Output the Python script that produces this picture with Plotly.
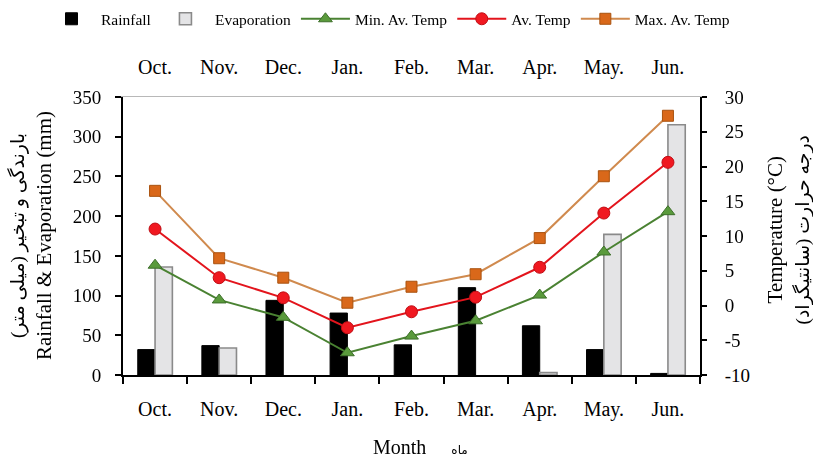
import plotly.graph_objects as go

# Monthly climate data (Oct - Jun)
months = ["Oct.", "Nov.", "Dec.", "Jan.", "Feb.", "Mar.", "Apr.", "May.", "Jun."]
rainfall = [32, 37, 94, 78, 38, 110, 62, 32, 2]
evaporation = [136, 34, 0, 0, 0, 0, 3, 177, 315]
min_av_temp = [5.8, 0.8, -1.7, -6.8, -4.4, -2.2, 1.5, 7.7, 13.5]
av_temp = [11.0, 4.0, 1.1, -3.2, -0.9, 1.2, 5.5, 13.3, 20.6]
max_av_temp = [16.5, 6.8, 4.0, 0.4, 2.7, 4.5, 9.7, 18.6, 27.3]

temp_ticks = [-10, -5, 0, 5, 10, 15, 20, 25, 30]
temp_tick_text = [str(t) for t in temp_ticks]

FONT = "Liberation Serif, Times New Roman, DejaVu Sans, serif"

fig = go.Figure()

fig.add_trace(go.Bar(
    x=months, y=rainfall, name="Rainfall",
    marker=dict(color="#000000", line=dict(color="#000000", width=1)),
    xaxis="x", yaxis="y",
))
# no outline on empty evaporation months
evap_edge = [1.6 if v > 0 else 0 for v in evaporation]
fig.add_trace(go.Bar(
    x=months, y=evaporation, name="Evaporation",
    marker=dict(color="#e4e4e6", line=dict(color="#8a8a8a", width=evap_edge)),
    xaxis="x", yaxis="y",
))
fig.add_trace(go.Scatter(
    x=months, y=min_av_temp, name="Min. Av. Temp", mode="lines+markers",
    line=dict(color="#4a8232", width=2),
    marker=dict(symbol="triangle-up", size=12, color="#5a9a3c",
                line=dict(color="#3d6f2a", width=1)),
    xaxis="x", yaxis="y2",
))
fig.add_trace(go.Scatter(
    x=months, y=av_temp, name="Av. Temp", mode="lines+markers",
    line=dict(color="#e3141c", width=2),
    marker=dict(symbol="circle", size=12, color="#f01820",
                line=dict(color="#c00d14", width=1)),
    xaxis="x", yaxis="y2",
))
fig.add_trace(go.Scatter(
    x=months, y=max_av_temp, name="Max. Av. Temp", mode="lines+markers",
    line=dict(color="#d08a4e", width=2),
    marker=dict(symbol="square", size=11, color="#d9681a",
                line=dict(color="#a9520f", width=1)),
    xaxis="x", yaxis="y2",
))
# Invisible trace so the top month axis carries its category labels
fig.add_trace(go.Scatter(
    x=months, y=rainfall, mode="markers", opacity=0, showlegend=False,
    hoverinfo="skip", xaxis="x2", yaxis="y",
))

fig.update_layout(
    width=813, height=457,
    margin=dict(l=123, r=113, t=97, b=82, autoexpand=False),
    paper_bgcolor="white", plot_bgcolor="white",
    font=dict(family=FONT, size=18, color="#000000"),
    barmode="group", bargap=0.46, bargroupgap=0.0,
    showlegend=True,
    legend=dict(
        orientation="h", x=(42 - 123) / 577, xanchor="left", y=1.341, yanchor="top",
        font=dict(family=FONT, size=15.5, color="#000000"),
        itemwidth=49, tracegroupgap=0,
        bgcolor="rgba(0,0,0,0)",
    ),
    xaxis=dict(
        type="category", categoryarray=months, range=[-0.5, 8.5],
        showline=True, linecolor="#000000", linewidth=2,
        ticks="outside", tickson="boundaries", ticklen=7, tickwidth=2,
        tickcolor="#000000", ticklabelstandoff=15,
        showgrid=False, zeroline=False,
        tickfont=dict(family=FONT, size=20),
    ),
    xaxis2=dict(
        type="category", categoryarray=months, range=[-0.5, 8.5],
        overlaying="x", side="top", anchor="y",
        showline=True, linecolor="#b8b8b8", linewidth=1,
        ticks="", ticklabelstandoff=14,
        showgrid=False, zeroline=False,
        tickfont=dict(family=FONT, size=20),
    ),
    yaxis=dict(
        range=[0, 350], dtick=50, tick0=0,
        showline=True, linecolor="#000000", linewidth=2,
        ticks="outside", ticklen=6, tickwidth=2, tickcolor="#000000",
        ticklabelstandoff=10,
        showgrid=False, zeroline=False,
        tickfont=dict(family=FONT, size=19),
    ),
    yaxis2=dict(
        range=[-10, 30], overlaying="y", side="right", anchor="x",
        tickmode="array", tickvals=temp_ticks, ticktext=temp_tick_text,
        showline=True, linecolor="#000000", linewidth=2,
        ticks="outside", ticklen=5, tickwidth=2, tickcolor="#000000",
        ticklabelstandoff=14,
        showgrid=False, zeroline=False,
        tickfont=dict(family=FONT, size=19),
    ),
)

# Axis titles (English with Persian translation)
fig.add_annotation(
    text="<span style='font-size:19px'>بارندگی و تبخیر (میلی متر)</span><br>Rainfall &amp; Evaporation (mm)",
    xref="paper", yref="paper", x=(31 - 123) / 577, y=0.5,
    xanchor="center", yanchor="middle", textangle=-90, showarrow=False,
    font=dict(family=FONT, size=21), align="center",
)
fig.add_annotation(
    text="Temperature (°C)<br><span style='font-size:19px'>درجه حرارت (سانتیگراد)</span>",
    xref="paper", yref="paper", x=(788 - 123) / 577, y=0.52,
    xanchor="center", yanchor="middle", textangle=-90, showarrow=False,
    font=dict(family=FONT, size=21), align="center",
)
fig.add_annotation(
    text="Month&nbsp;&nbsp;&nbsp;&nbsp;&nbsp;<span style='font-size:12px'>ماه</span>",
    xref="paper", yref="paper", x=(420 - 123) / 577, y=-(447 - 375) / 278,
    xanchor="center", yanchor="middle", showarrow=False,
    font=dict(family=FONT, size=20),
)

fig.write_html("out.html")
